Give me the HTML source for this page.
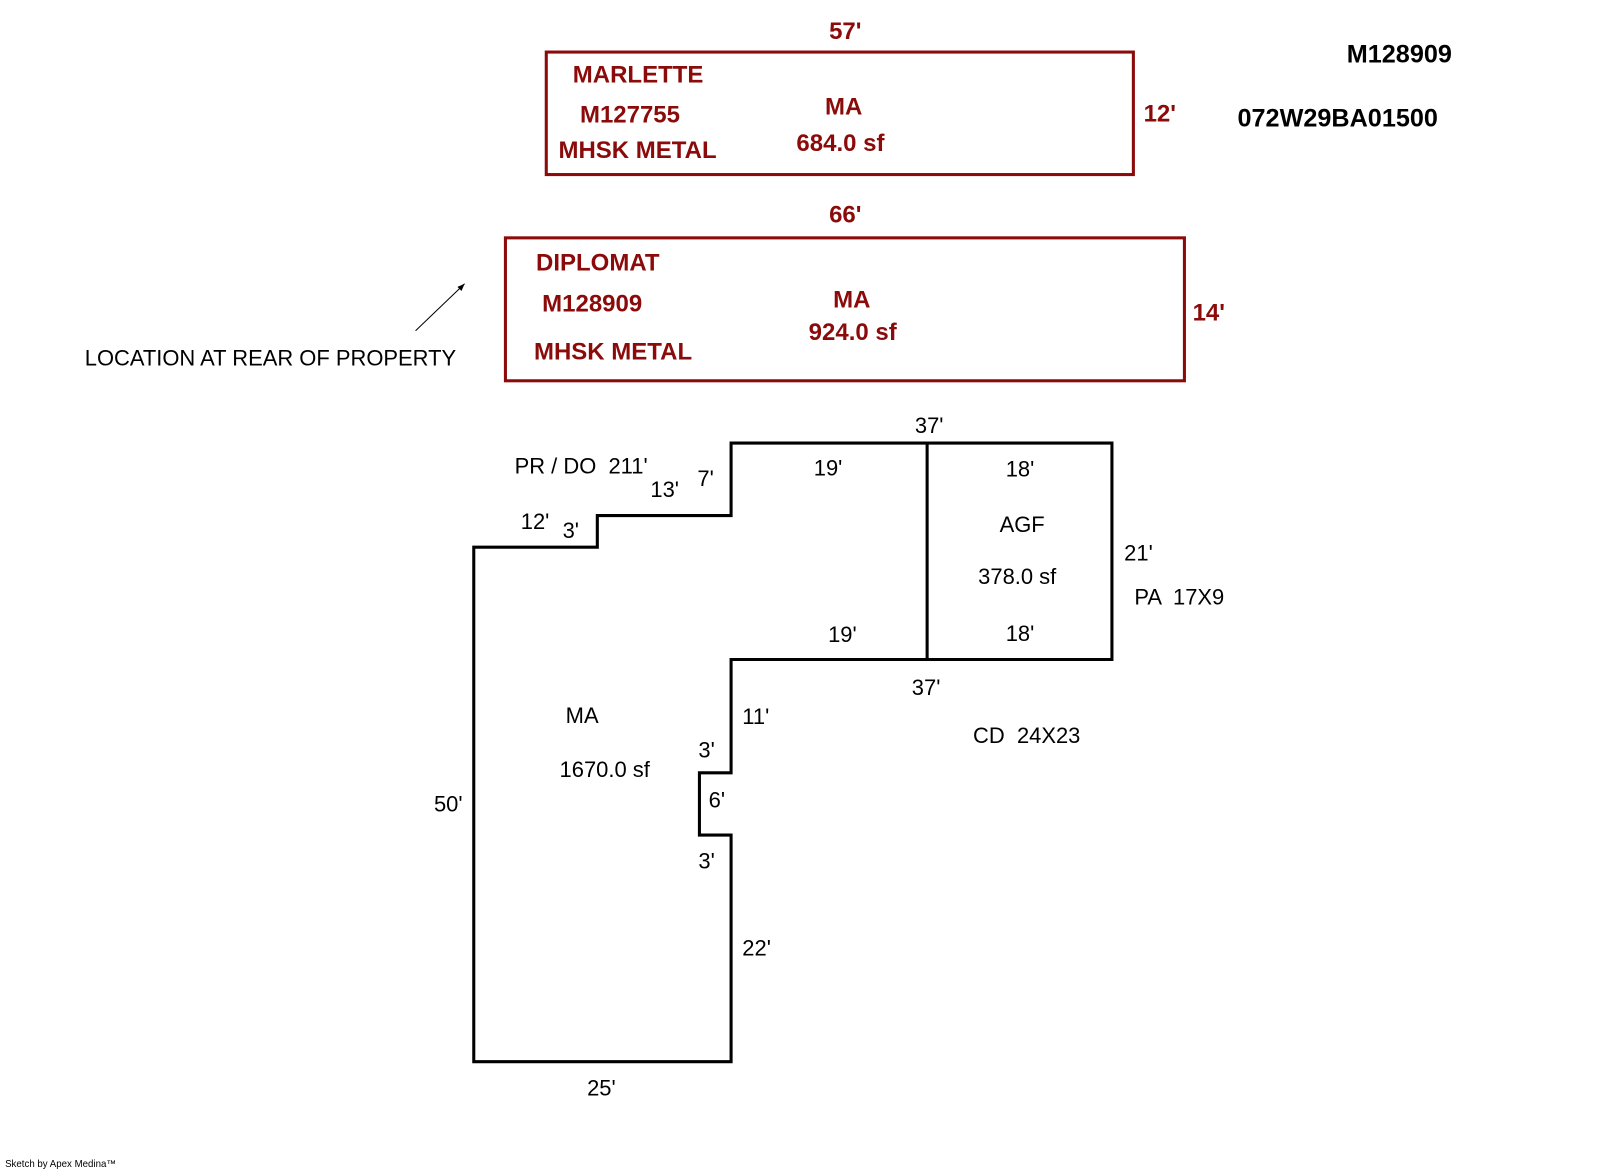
<!DOCTYPE html>
<html><head><meta charset="utf-8"><style>
html,body{margin:0;padding:0;background:#fff;}
svg{display:block;}
text{white-space:pre;}
.r{fill:#8b0a0a;font-family:"Liberation Sans",Arial,sans-serif;font-weight:bold;font-size:23.5px;}
.k{fill:#000;font-family:"Liberation Sans",Arial,sans-serif;font-size:21.5px;}
.b{fill:#000;font-family:"Liberation Sans",Arial,sans-serif;font-weight:bold;font-size:24.7px;}
</style></head><body>
<svg width="1600" height="1174" viewBox="0 0 1567 1150" preserveAspectRatio="none" xmlns="http://www.w3.org/2000/svg" xml:space="preserve">
<rect width="1567" height="1150" fill="#fff"/>
<rect x="535" y="51" width="575" height="120" fill="none" stroke="#8b0a0a" stroke-width="3"/>
<rect x="495" y="233" width="665" height="140" fill="none" stroke="#8b0a0a" stroke-width="3"/>
<text class="r" x="812" y="38">57'</text>
<text class="r" x="561" y="81">MARLETTE</text>
<text class="r" x="568" y="120">M127755</text>
<text class="r" x="547" y="155">MHSK METAL</text>
<text class="r" x="808" y="112">MA</text>
<text class="r" x="780" y="148">684.0 sf</text>
<text class="r" x="1120" y="119">12'</text>
<text class="b" x="1319" y="61">M128909</text>
<text class="b" x="1212" y="124">072W29BA01500</text>
<text class="r" x="812" y="218">66'</text>
<text class="r" x="525" y="265">DIPLOMAT</text>
<text class="r" x="531" y="305">M128909</text>
<text class="r" x="523" y="352">MHSK METAL</text>
<text class="r" x="816" y="301">MA</text>
<text class="r" x="792" y="333">924.0 sf</text>
<text class="r" x="1168" y="314">14'</text>
<line x1="407" y1="324" x2="455" y2="278" stroke="#000" stroke-width="1"/>
<path d="M455 278 L448 281 L452 285 Z" fill="#000"/>
<text class="k" x="83" y="358">LOCATION AT REAR OF PROPERTY</text>
<path d="M464 536 L585 536 L585 505 L716 505 L716 434 L1089 434 L1089 646 L716 646 L716 757 L685 757 L685 818 L716 818 L716 1040 L464 1040 Z" fill="none" stroke="#000" stroke-width="3"/>
<line x1="908" y1="434" x2="908" y2="646" stroke="#000" stroke-width="3"/>
<g class="k">
<text x="896" y="424">37'</text>
<text x="504" y="464">PR / DO  211'</text>
<text x="683" y="476">7'</text>
<text x="637" y="487">13'</text>
<text x="510" y="518">12'</text>
<text x="551" y="527">3'</text>
<text x="797" y="466">19'</text>
<text x="985" y="467">18'</text>
<text x="979" y="521">AGF</text>
<text x="958" y="572">378.0 sf</text>
<text x="1101" y="549">21'</text>
<text x="1111" y="592">PA  17X9</text>
<text x="811" y="629">19'</text>
<text x="985" y="628">18'</text>
<text x="893" y="681">37'</text>
<text x="953" y="728">CD  24X23</text>
<text x="554" y="708">MA</text>
<text x="548" y="761">1670.0 sf</text>
<text x="727" y="709">11'</text>
<text x="684" y="742">3'</text>
<text x="694" y="791">6'</text>
<text x="684" y="851">3'</text>
<text x="425" y="795">50'</text>
<text x="727" y="936">22'</text>
<text x="575" y="1073">25'</text>
</g>
<text x="5" y="1143" font-family="Liberation Sans,Arial,sans-serif" font-size="9.5" fill="#000">Sketch by Apex Medina™</text>
</svg>
</body></html>
